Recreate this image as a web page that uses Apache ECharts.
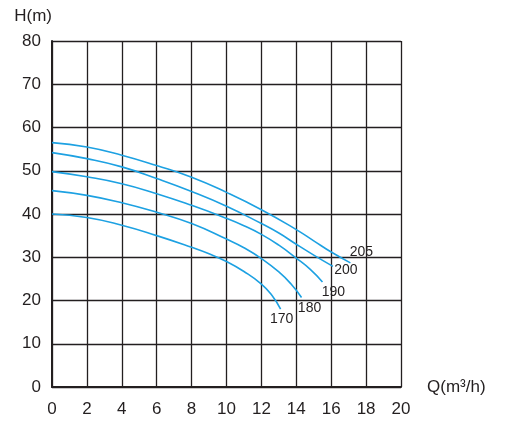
<!DOCTYPE html>
<html>
<head>
<meta charset="utf-8">
<script src="https://cdn.jsdelivr.net/npm/echarts@6/dist/echarts.min.js"></script>
<style>
  html, body { margin: 0; padding: 0; background: #fff; }
  #chart { width: 513px; height: 424px; }
</style>
</head>
<body>
<div id="chart"></div>
<script>
// 扬程曲线数据 Q(m3/h) -> H(m)，按图读出的近似值
var q205 = [0, 2, 4, 6, 8, 10, 12, 14, 15, 16, 17.1];
var h205 = [56.5, 55.5, 53.6, 51.2, 48.5, 45.0, 41.0, 36.4, 33.8, 31.2, 28.7];

var q200 = [0, 2, 4, 6, 8, 10, 12, 13, 14, 15, 16.1];
var h200 = [54.2, 52.8, 50.9, 48.2, 45.2, 41.8, 37.8, 35.6, 33.0, 30.5, 27.9];

var q190 = [0, 2, 4, 6, 8, 10, 11, 12, 13, 14, 14.8, 15.5];
var h190 = [49.8, 48.6, 47.0, 44.7, 42.0, 39.0, 37.3, 35.3, 32.8, 29.8, 27.2, 24.3];

var q180 = [0, 2, 4, 6, 8, 10, 11, 12, 13, 13.7, 14.3];
var h180 = [45.4, 44.3, 42.6, 40.4, 37.8, 34.2, 32.2, 29.7, 26.6, 23.8, 20.7];

var q170 = [0, 2, 4, 6, 8, 9, 10, 11, 12, 12.6, 13.1];
var h170 = [40.0, 39.2, 37.4, 35.0, 32.3, 30.8, 29.0, 26.7, 23.8, 21.2, 18.0];

var curveNames = ['205', '200', '190', '180', '170'];
var xTicks = [0, 20, 2];   // min, max, interval
var yTicks = [0, 80, 10];

var blue = '#1da1e2';
var ink = '#231f20';

// 末端标注的偏移（相对曲线终点，文字居中）
var labelOffset = {
  '205': [11, -11],
  '200': [13, 4],
  '190': [11, 10],
  '180': [8, 11],
  '170': [1, 10]
};

function makeSeries(name, qs, hs) {
  var d = [];
  for (var i = 0; i < qs.length; i++) {
    d.push([qs[i], hs[i]]);
  }
  return {
    name: name,
    type: 'line',
    smooth: 0.5,
    symbol: 'none',
    lineStyle: { color: blue, width: 1.6 },
    endLabel: {
      show: true,
      formatter: name,
      distance: 0,
      align: 'center',
      verticalAlign: 'middle',
      offset: labelOffset[name],
      color: ink,
      fontSize: 14,
      fontFamily: 'Liberation Sans'
    },
    data: d,
    z: 3
  };
}

var myChart = echarts.init(document.getElementById('chart'));
var option = {
  animation: false,
  backgroundColor: '#fff',
  grid: { left: 52, right: 112, top: 41, bottom: 37 },
  xAxis: {
    type: 'value',
    min: xTicks[0], max: xTicks[1], interval: xTicks[2],
    name: 'Q(m³/h)',
    nameLocation: 'end',
    nameGap: 26,
    nameTextStyle: { color: ink, fontSize: 17, fontFamily: 'Liberation Sans', verticalAlign: 'middle', padding: [44, 0, 0, 0] },
    axisLine: { show: true, lineStyle: { color: ink, width: 2 } },
    axisTick: { show: false },
    axisLabel: { color: ink, fontSize: 17, fontFamily: 'Liberation Sans', margin: 14 },
    splitLine: { show: true, lineStyle: { color: ink, width: 1.3 } }
  },
  yAxis: {
    type: 'value',
    min: yTicks[0], max: yTicks[1], interval: yTicks[2],
    name: 'H(m)',
    nameLocation: 'end',
    nameGap: 16,
    nameTextStyle: { color: ink, fontSize: 17, fontFamily: 'Liberation Sans', align: 'right' },
    axisLine: { show: true, lineStyle: { color: ink, width: 2 } },
    axisTick: { show: false },
    axisLabel: { color: ink, fontSize: 17, fontFamily: 'Liberation Sans', margin: 11 },
    splitLine: { show: true, lineStyle: { color: ink, width: 1.3 } }
  },
  series: [
    makeSeries(curveNames[0], q205, h205),
    makeSeries(curveNames[1], q200, h200),
    makeSeries(curveNames[2], q190, h190),
    makeSeries(curveNames[3], q180, h180),
    makeSeries(curveNames[4], q170, h170)
  ]
};
myChart.setOption(option);
</script>
</body>
</html>
